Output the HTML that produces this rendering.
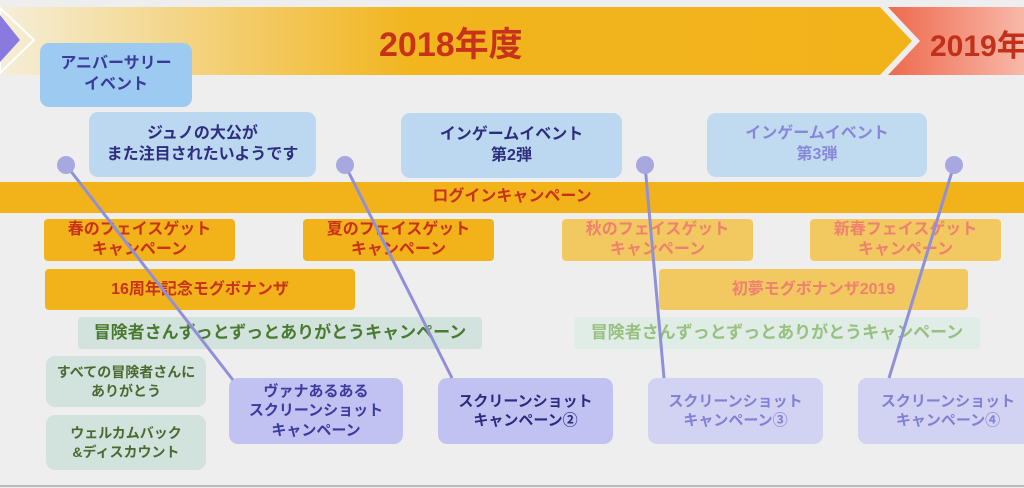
<!DOCTYPE html>
<html><head><meta charset="utf-8"><style>
body{margin:0;width:1024px;height:488px;overflow:hidden;background:#eeeeee;font-family:"Liberation Sans","Noto Sans CJK JP",sans-serif;font-weight:bold;position:relative}
.b{position:absolute;display:flex;align-items:center;justify-content:center;text-align:center;border-radius:9px;line-height:1.3;box-sizing:border-box;white-space:nowrap}
.blue{background:#bcd8f0;color:#2e2e7e;font-size:16px}
.or{background:#f2b21a;color:#c8321a;font-size:16px;border-radius:4px;line-height:1.25}
.orf{background:#f2c860;color:#f08070;font-size:16px;border-radius:4px;line-height:1.25}
.gr{background:#d2e2dc;color:#4a6a30;font-size:14px}
.pu{background:#c2c2f2;color:#2e2e90;font-size:15px}
.puf{background:#d2d2f2;color:#8080d8;font-size:15px}
</style></head><body>
<svg width="1024" height="488" style="position:absolute;left:0;top:0">
<defs>
<linearGradient id="g1" x1="0" x2="1"><stop offset="0" stop-color="#f5eed8"/><stop offset="0.45" stop-color="#f2b51e"/><stop offset="1" stop-color="#f2b21a"/></linearGradient>
<linearGradient id="g2" x1="0" x2="1"><stop offset="0" stop-color="#ee6a4e"/><stop offset="1" stop-color="#f8b8a8"/></linearGradient>
</defs>
<polygon points="0,7 880,7 912,41 880,75 0,75" fill="url(#g1)"/>
<polygon points="888,7 1024,7 1024,75 888,75 920,41" fill="url(#g2)"/>
<polygon points="0,8 34,40 0,73" fill="none" stroke="#fff" stroke-width="2"/>
<polygon points="0,15 20,40 0,62" fill="#8a7ae0"/>
<line x1="0" y1="486" x2="1024" y2="486" stroke="#bbb" stroke-width="2"/>
</svg>
<div style="position:absolute;left:379px;top:17px;font-size:34px;color:#c8321a">2018年度</div>
<div style="position:absolute;left:930px;top:21px;font-size:30px;color:#c0301a;white-space:nowrap">2019年</div>
<div class="b" style="left:40px;top:43px;width:152px;height:64px;background:#9ccaf0;color:#3a3a9a;font-size:16px">アニバーサリー<br>イベント</div>
<div class="b blue" style="left:89px;top:112px;width:227px;height:65px">ジュノの大公が<br>また注目されたいようです</div>
<div class="b blue" style="left:401px;top:113px;width:221px;height:65px">インゲームイベント<br>第2弾</div>
<div class="b blue" style="left:707px;top:113px;width:220px;height:64px;color:#8888d8;background:#c0daf0">インゲームイベント<br>第3弾</div>
<div class="b" style="left:0;top:182px;width:1024px;height:31px;background:#f2b21a;color:#c8321a;font-size:16px;border-radius:0">ログインキャンペーン</div>
<div class="b or" style="left:44px;top:219px;width:191px;height:42px">春のフェイスゲット<br>キャンペーン</div>
<div class="b or" style="left:303px;top:219px;width:191px;height:42px">夏のフェイスゲット<br>キャンペーン</div>
<div class="b orf" style="left:562px;top:219px;width:191px;height:42px">秋のフェイスゲット<br>キャンペーン</div>
<div class="b orf" style="left:810px;top:219px;width:191px;height:42px">新春フェイスゲット<br>キャンペーン</div>
<div class="b or" style="left:45px;top:269px;width:310px;height:41px;font-size:16px">16周年記念モグボナンザ</div>
<div class="b orf" style="left:659px;top:269px;width:309px;height:41px;font-size:16px">初夢モグボナンザ2019</div>
<div class="b gr" style="left:78px;top:317px;width:404px;height:32px;font-size:17px;border-radius:4px;color:#4a7a30">冒険者さんずっとずっとありがとうキャンペーン</div>
<div class="b gr" style="left:574px;top:317px;width:406px;height:32px;font-size:17px;border-radius:4px;color:#98c080;background:#e0ece6">冒険者さんずっとずっとありがとうキャンペーン</div>
<div class="b gr" style="left:46px;top:356px;width:160px;height:51px">すべての冒険者さんに<br>ありがとう</div>
<div class="b gr" style="left:46px;top:415px;width:160px;height:55px">ウェルカムバック<br>&amp;ディスカウント</div>
<div class="b pu" style="left:229px;top:378px;width:174px;height:66px;color:#3a3aa0">ヴァナあるある<br>スクリーンショット<br>キャンペーン</div>
<div class="b pu" style="left:438px;top:378px;width:175px;height:66px;color:#2a2a80">スクリーンショット<br>キャンペーン②</div>
<div class="b puf" style="left:648px;top:378px;width:175px;height:66px">スクリーンショット<br>キャンペーン③</div>
<div class="b puf" style="left:858px;top:378px;width:180px;height:66px">スクリーンショット<br>キャンペーン④</div>
<svg width="1024" height="488" style="position:absolute;left:0;top:0">
<g stroke="#9090d8" stroke-width="3">
<line x1="66" y1="165" x2="233" y2="380"/>
<line x1="345" y1="165" x2="452" y2="378"/>
<line x1="645" y1="165" x2="664" y2="378"/>
<line x1="954" y1="165" x2="889" y2="378"/>
</g>
<g fill="#a8a8e0">
<circle cx="66" cy="165" r="9"/><circle cx="345" cy="165" r="9"/><circle cx="645" cy="165" r="9"/><circle cx="954" cy="165" r="9"/>
</g>
</svg>
</body></html>
